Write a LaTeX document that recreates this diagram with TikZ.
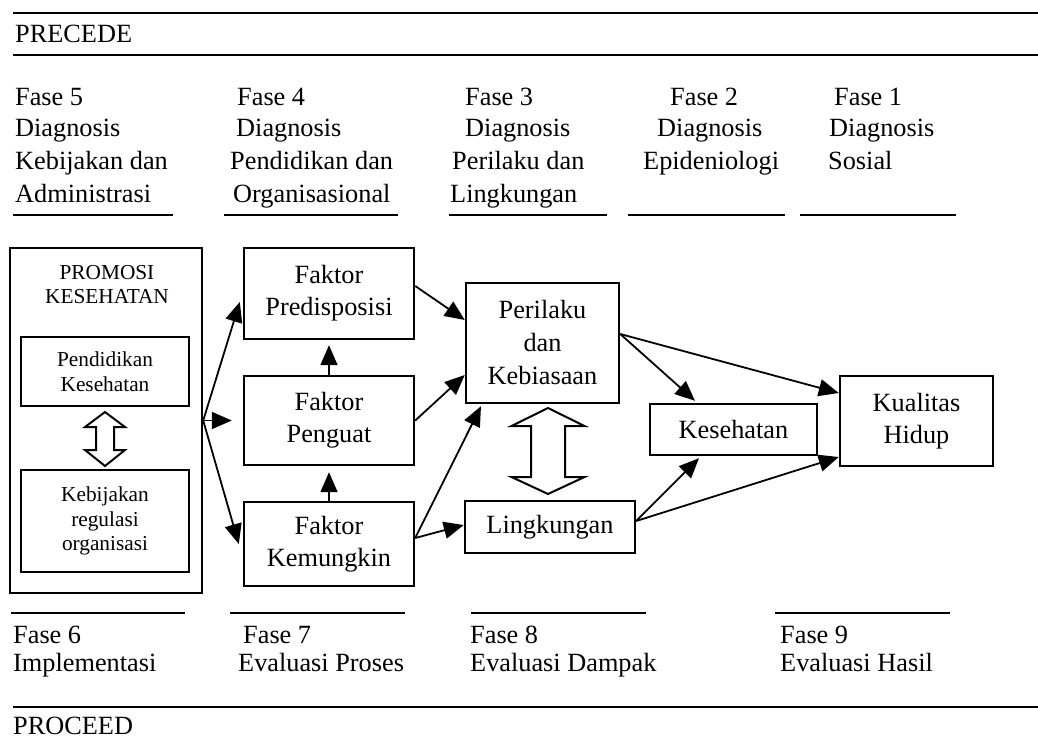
\documentclass[tikz,border=0pt]{standalone}
\usepackage{fontspec}
\setmainfont{Liberation Serif}
\usetikzlibrary{arrows.meta,calc}
\begin{document}
\begin{tikzpicture}[x=1pt,y=-1pt,
  lbl/.style={anchor=base west,inner sep=0pt,font=\fontsize{26.3}{32}\selectfont},
  box/.style={draw,line width=2.4pt,align=center,inner sep=0pt,font=\fontsize{26.3}{32}\selectfont},
  sbox/.style={box,font=\fontsize{21.3}{24.5}\selectfont},
  stext/.style={align=center,inner sep=0pt,font=\fontsize{21.3}{24}\selectfont},
  rulel/.style={line width=2.2pt},
  arr/.style={line width=1.8pt,-{Triangle[length=20pt,width=17pt]}},
  hollow/.style={line width=2pt,fill=white,line join=miter}]
\useasboundingbox (0,0) rectangle (1038,738);

% horizontal rules
\coordinate (r1a) at (13,13);   \coordinate (r1b) at (1038,13);
\coordinate (r2a) at (13,55);   \coordinate (r2b) at (1038,55);
\coordinate (r3a) at (13,707);  \coordinate (r3b) at (1038,707);
\draw[rulel] (r1a) -- (r1b);
\draw[rulel] (r2a) -- (r2b);
\draw[rulel] (r3a) -- (r3b);
\node[lbl] (precede) at (15,43) {PRECEDE};
\node[lbl] (proceed) at (13,734.5) {PROCEED};

% top columns
\node[lbl] (t5a) at (15,106) {Fase 5};
\node[lbl] (t5b) at (15,137) {Diagnosis};
\node[lbl] (t5c) at (15,170) {Kebijakan dan};
\node[lbl] (t5d) at (15,202) {Administrasi};
\node[lbl] (t4a) at (237,106) {Fase 4};
\node[lbl] (t4b) at (236,137) {Diagnosis};
\node[lbl] (t4c) at (230,170) {Pendidikan dan};
\node[lbl] (t4d) at (233,202) {Organisasional};
\node[lbl] (t3a) at (465,106) {Fase 3};
\node[lbl] (t3b) at (465,137) {Diagnosis};
\node[lbl] (t3c) at (452,170) {Perilaku dan};
\node[lbl] (t3d) at (450,202) {Lingkungan};
\node[lbl] (t2a) at (670,106) {Fase 2};
\node[lbl] (t2b) at (657,137) {Diagnosis};
\node[lbl] (t2c) at (643,170) {Epideniologi};
\node[lbl] (t1a) at (834,106) {Fase 1};
\node[lbl] (t1b) at (829,137) {Diagnosis};
\node[lbl] (t1c) at (828,170) {Sosial};
\draw[rulel] (13,215) -- (173,215);
\draw[rulel] (224,215) -- (398,215);
\draw[rulel] (449,215) -- (607,215);
\draw[rulel] (628,215) -- (785,215);
\draw[rulel] (800,215) -- (956,215);

% bottom columns
\draw[rulel] (11,613) -- (185,613);
\draw[rulel] (230,613) -- (405,613);
\draw[rulel] (471,613) -- (646,613);
\draw[rulel] (775,613) -- (950,613);
\node[lbl] (b6a) at (13,643) {Fase 6};
\node[lbl] (b6b) at (13,671) {Implementasi};
\node[lbl] (b7a) at (243,643) {Fase 7};
\node[lbl] (b7b) at (238,671) {Evaluasi Proses};
\node[lbl] (b8a) at (470,643) {Fase 8};
\node[lbl] (b8b) at (470,671) {Evaluasi Dampak};
\node[lbl] (b9a) at (780,643) {Fase 9};
\node[lbl] (b9b) at (780,671) {Evaluasi Hasil};

% boxes
\node[box,minimum width=192pt,minimum height=345pt] (promo) at (106,420.5) {};
\node[stext] (promotitle) at (107,285) {PROMOSI\\KESEHATAN};
\node[sbox,minimum width=168pt,minimum height=69pt] (pend) at (105,371.5) {Pendidikan\\Kesehatan};
\node[sbox,minimum width=168pt,minimum height=102pt] (kebij) at (105,521) {Kebijakan\\regulasi\\organisasi};
\node[box,minimum width=170pt,minimum height=91pt] (pred) at (329,293.5) {Faktor\\Predisposisi};
\node[box,minimum width=170pt,minimum height=89pt] (peng) at (329,420.5) {Faktor\\Penguat};
\node[box,minimum width=170pt,minimum height=84pt] (kem) at (329,544) {Faktor\\Kemungkin};
\node[box,minimum width=153pt,minimum height=120pt,font=\fontsize{26.3}{33}\selectfont] (peril) at (542.5,343) {Perilaku\\dan\\Kebiasaan};
\node[box,minimum width=170pt,minimum height=52pt] (ling) at (550,527) {Lingkungan};
\node[box,minimum width=167pt,minimum height=51pt] (kes) at (733.5,429.5) {Kesehatan};
\node[box,minimum width=153pt,minimum height=90pt] (kual) at (916.5,421) {Kualitas\\Hidup};

% hollow double arrows
\draw[hollow] (105,412) -- (125,427) -- (114,427) -- (114,450) -- (125,450) -- (105,466)
  -- (85,450) -- (96,450) -- (96,427) -- (85,427) -- cycle;
\draw[hollow] (548,408) -- (584.5,426) -- (565,426) -- (565,477) -- (584.5,477) -- (548,494)
  -- (511.5,477) -- (531,477) -- (531,426) -- (511.5,426) -- cycle;

% arrows
\draw[arr] (promo.east) -- ([xshift=-3pt,yshift=-8.5pt]pred.west);
\draw[arr] (promo.east) -- ([xshift=-11pt]peng.west);
\draw[arr] (promo.east) -- ([xshift=-4pt]kem.west);
\draw[arr,shorten >=5pt] (peng.north) -- (pred.south);
\draw[arr,shorten >=6pt] (kem.north) -- (peng.south);
\draw[arr] ([yshift=7.5pt]pred.east) -- ([yshift=23pt]peril.west);
\draw[arr] (peng.east) -- ([yshift=-32pt]peril.west);
\draw[arr] ([yshift=6pt]kem.east) -- ([xshift=-61.5pt,yshift=-2pt]peril.south);
\draw[arr] ([yshift=6pt]kem.east) -- ([yshift=2pt]ling.west);
\draw[arr] ([yshift=9pt]peril.east) -- ([xshift=-38.5pt,yshift=2pt]kes.north);
\draw[arr] ([yshift=9pt]peril.east) -- ([yshift=28pt]kual.west);
\draw[arr] ([yshift=6pt]ling.east) -- ([xshift=-34.5pt,yshift=-2pt]kes.south);
\draw[arr] ([yshift=6pt]ling.east) -- ([yshift=-36pt]kual.west);
\end{tikzpicture}
\end{document}
